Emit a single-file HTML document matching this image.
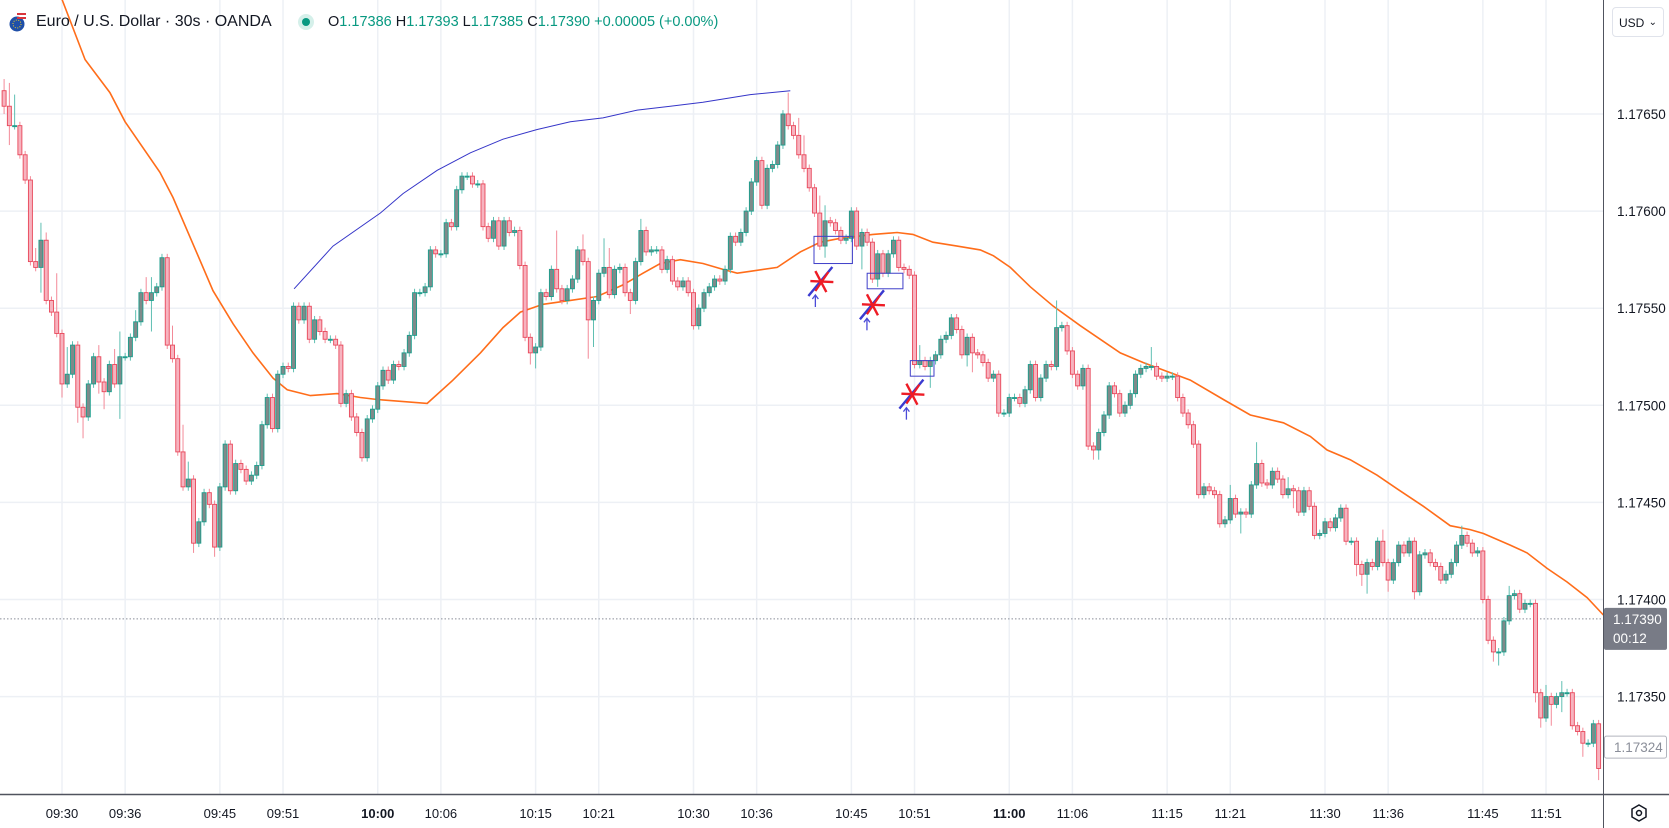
<!DOCTYPE html>
<html>
<head>
<meta charset="utf-8">
<style>
html,body{margin:0;padding:0;background:#fff;}
#wrap{position:relative;width:1669px;height:828px;overflow:hidden;background:#fff;font-family:"Liberation Sans",sans-serif;}
#chart{position:absolute;left:0;top:0;}
.hdr{position:absolute;top:11px;left:0;height:22px;display:flex;align-items:center;white-space:nowrap;}
.sym{position:absolute;left:36px;top:11px;font-size:16px;color:#131722;line-height:22px;}
.ohlc{position:absolute;left:328px;top:12px;font-size:14.5px;color:#089981;line-height:20px;}
.ohlc b{font-weight:normal;color:#131722;}
.dot{position:absolute;left:298px;top:14px;width:16px;height:16px;border-radius:50%;background:#d5f0ea;}
.dot i{position:absolute;left:4px;top:4px;width:8px;height:8px;border-radius:50%;background:#089981;}
.usd{position:absolute;left:1612px;top:7px;width:52px;height:30px;border:1px solid #e0e3eb;border-radius:4px;font-size:12px;color:#131722;line-height:30px;box-sizing:border-box;padding-left:6px;}
.usd span{position:absolute;right:6px;top:0;font-size:10px;}
</style>
</head>
<body>
<div id="wrap">
<svg id="chart" width="1669" height="828"></svg>
<svg style="position:absolute;left:9px;top:12px" width="20" height="20">
  <circle cx="8" cy="12" r="7.5" fill="#1f4fa8"/>
  <circle cx="8" cy="12" r="4" fill="none" stroke="#f5d020" stroke-width="1" stroke-dasharray="1 1.5"/>
  <path d="M8 1 h9 v2 h-9z M8 5 h9 v2 h-9z" fill="#d9343c"/>
</svg>
<div class="sym">Euro / U.S. Dollar · 30s · OANDA</div>
<div class="dot"><i></i></div>
<div class="ohlc"><b>O</b>1.17386 <b>H</b>1.17393 <b>L</b>1.17385 <b>C</b>1.17390 +0.00005 (+0.00%)</div>
<div class="usd">USD<span>⌄</span></div>
</div>
<script>
// ---------- data ----------
const firstOpen = 1.17662;
const closes = [
1.17654,1.17644,1.17644,1.17629,1.17616,1.17574,1.17571,1.17585,1.17554,1.17548,
1.17537,1.17511,1.17516,1.17531,1.17499,1.17494,1.17511,1.17525,1.17512,1.17507,
1.17521,1.17511,1.17525,1.17525,1.17535,1.17543,1.17558,1.17554,1.17558,1.17561,
1.17576,1.17531,1.17524,1.17476,1.17458,1.17462,1.17429,1.17440,1.17455,1.17449,
1.17427,1.17458,1.17480,1.17456,1.17470,1.17467,1.17461,1.17464,1.17469,1.17490,
1.17504,1.17488,1.17516,1.17520,1.17519,1.17551,1.17544,1.17551,1.17534,1.17544,
1.17538,1.17534,1.17534,1.17531,1.17501,1.17506,1.17494,1.17486,1.17473,1.17493,
1.17498,1.17510,
1.17518,1.17513,1.17521,1.17520,1.17527,1.17536,1.17558,1.17558,1.17561,1.17580,
1.17578,1.17578,1.17594,1.17592,1.17611,1.17618,1.17618,1.17614,1.17614,1.17592,
1.17586,1.17595,1.17582,1.17595,1.17589,1.17590,1.17572,1.17535,1.17527,1.17530,
1.17558,1.17556,1.17570,1.17560,1.17554,1.17560,1.17565,1.17580,1.17574,1.17544,
1.17554,1.17568,1.17571,1.17557,1.17570,1.17571,1.17558,1.17554,1.17574,1.17590,
1.17579,1.17580,1.17580,1.17570,1.17575,1.17564,1.17561,1.17564,1.17558,1.17541,
1.17550,1.17558,1.17561,1.17565,1.17564,1.17570,1.17587,1.17584,1.17589,1.17600,
1.17615,1.17626,1.17603,1.17622,1.17624,1.17634,1.17650,1.17644,1.17639,1.17629,
1.17622,1.17612,1.17599,1.17582,1.17595,1.17594,1.17590,1.17585,1.17586,1.17600,
1.17582,1.17589,1.17584,1.17565,1.17578,1.17568,1.17578,1.17585,1.17571,1.17570,
1.17567,1.17521,1.17523,1.17520,1.17523,1.17526,1.17534,1.17536,1.17545,1.17539,
1.17526,1.17535,1.17527,1.17526,1.17522,1.17514,1.17516,1.17496,1.17496,1.17504,
1.17504,1.17501,1.17508,1.17521,1.17504,1.17514,1.17521,1.17520,1.17540,1.17541,
1.17528,1.17516,1.17510,1.17519,1.17479,1.17477,1.17486,1.17495,1.17510,1.17506,
1.17496,
1.17500,1.17506,1.17516,1.17519,1.17520,1.17520,1.17515,1.17514,1.17515,1.17515,
1.17504,1.17496,1.17490,1.17480,1.17454,1.17458,1.17456,1.17454,1.17439,1.17441,
1.17452,1.17444,1.17445,1.17444,1.17459,1.17470,1.17460,1.17459,1.17466,1.17462,
1.17454,1.17457,1.17456,1.17445,1.17456,1.17448,1.17433,1.17434,1.17440,1.17437,
1.17442,1.17447,1.17430,1.17430,1.17418,1.17413,1.17419,1.17417,1.17430,1.17419,
1.17410,1.17419,1.17428,1.17424,1.17430,1.17404,1.17423,1.17424,1.17419,1.17417,
1.17410,1.17413,1.17419,1.17428,1.17433,1.17429,1.17424,1.17425,1.17400,
1.17379,1.17373,1.17373,1.17389,1.17402,1.17403,1.17395,1.17398,1.17398,1.17352,
1.17339,1.17350,1.17346,1.17350,1.17352,1.17352,1.17335,1.17332,1.17326,1.17326,
1.17336,1.17313
];
const hiWicks = [[0,6],[1,12],[2,16],[6,7],[7,9],[8,4],[10,20],[12,14],[18,6],[21,8],[22,13],[25,6],[27,8],[28,8],[32,10],[34,14],[35,9],[105,20],[110,8],[114,15],[115,10],[121,6],[149,11],[151,9],[152,10],[155,9],[156,8],[174,8],[200,14],[218,10],[233,7],[238,11],[244,6],[262,6],[277,5],[286,5],[293,6],[296,6]];
const loWicks = [[0,4],[1,10],[7,13],[11,7],[14,8],[15,11],[18,6],[19,9],[22,18],[28,16],[36,5],[40,5],[100,6],[101,8],[111,20],[112,14],[119,7],[156,6],[163,12],[166,4],[176,11],[183,6],[184,10],[207,5],[208,5],[235,10],[245,9],[257,6],[258,6],[259,10],[263,6],[268,4],[283,5],[284,7],[291,5],[292,5],[294,11],[296,8],[300,7],[303,6]];
const maIdx = [11,15.4,20.1,23,29.6,32.1,36.7,39.7,43.5,47.3,51.1,53.8,58.2,63.3,67.7,70.9,80.4,85.3,90.5,94.8,98.1,102.4,107.6,112.7,117.6,121.4,124.7,128.5,132.8,136.6,139.3,141.8,146.9,151.3,155.1,158.9,165.1,169.7,172.7,176.5,181.1,185.5,188,191.2,195,199.4,204.5,208.3,212.1,216.5,225.4,231.7,236.8,243.1,248.2,251.4,255.8,260.9,264.7,269.7,274.8,278.6,281.1,286.2,289.4,293.2,297,300.8,303.9];
const maVal = [1.17709,1.17678,1.17661,1.17646,1.17620,1.17607,1.17578,1.17559,1.17542,1.17527,1.17514,1.17508,1.17505,1.17506,1.17504,1.17503,1.17501,1.17513,1.17527,1.17540,1.17548,1.17552,1.17554,1.17556,1.17562,1.17568,1.17573,1.17575,1.17573,1.17570,1.17568,1.17569,1.17571,1.17579,1.17584,1.17586,1.17588,1.17589,1.17588,1.17584,1.17582,1.17580,1.17577,1.17571,1.17561,1.17551,1.17541,1.17534,1.17527,1.17522,1.17513,1.17503,1.17495,1.17491,1.17484,1.17477,1.17472,1.17464,1.17457,1.17448,1.17438,1.17436,1.17434,1.17428,1.17424,1.17416,1.17409,1.17401,1.17392];
const curveIdx = [55.1,62.5,71.5,75.8,82.3,88.6,94.8,101.3,107.6,113.8,120.3,126.6,132.8,141.8,149.4];
const curveVal = [1.17560,1.17582,1.17599,1.17609,1.17621,1.17630,1.17637,1.17642,1.17646,1.17648,1.17652,1.17654,1.17656,1.17660,1.17662];
const boxI0 = [153.9,164,172.2];
const boxI1 = [161.2,170.8,176.7];
const boxP0 = [1.17587,1.17568,1.17523];
const boxP1 = [1.17573,1.17560,1.17515];
const sigIdx = [155.3,165.1,172.6];
const sigVal = [1.17564,1.17552,1.17506];
const priceTicks = [1.17650,1.17600,1.17550,1.17500,1.17450,1.17400,1.17350];
const timeTicks = ["09:30","09:36","09:45","09:51","10:00","10:06","10:15","10:21","10:30","10:36","10:45","10:51","11:00","11:06","11:15","11:21","11:30","11:36","11:45","11:51"];
const lastPrice = 1.17390;
const lowMark = 1.17324;

// ---------- scales ----------
const PLOT_R = 1603, AXIS_Y = 794;
function xOfIdx(i){ return 4.1 + i*5.2625; }
function xOfTime(s){ const [h,m]=s.split(":").map(Number); return 62 + ((h*60+m) - (9*60+30))*10.525; }
function yOf(p){ return 114 + (1.17650 - p)/0.0005*97.1; }

const NS="http://www.w3.org/2000/svg";
const svg=document.getElementById('chart');
function mk(tag,attrs,parent){const e=document.createElementNS(NS,tag);for(const k in attrs)e.setAttribute(k,attrs[k]);(parent||svg).appendChild(e);return e;}

// grid
const grid=mk('g',{});


priceTicks.forEach(p=>{const l=mk('line',{x1:0,x2:PLOT_R,y1:yOf(p),y2:yOf(p),stroke:'#edf0f5','stroke-width':1.5},grid);

});
timeTicks.forEach(t=>{const l=mk('line',{x1:xOfTime(t),x2:xOfTime(t),y1:0,y2:AXIS_Y,stroke:'#edf0f5','stroke-width':1.5},grid);

});

// orange MA
let d='';maIdx.forEach((i,k)=>{d+=(k?'L':'M')+xOfIdx(i).toFixed(1)+' '+yOf(maVal[k]).toFixed(1);});
const ma=mk('path',{d:d,fill:'none',stroke:'#ff6d1a','stroke-width':1.6});



// blue curve
d='';curveIdx.forEach((i,k)=>{d+=(k?'L':'M')+xOfIdx(i).toFixed(1)+' '+yOf(curveVal[k]).toFixed(1);});
const bc=mk('path',{d:d,fill:'none',stroke:'#3535c8','stroke-width':1});



// last price dotted line
const lp=mk('line',{x1:0,x2:PLOT_R,y1:yOf(lastPrice),y2:yOf(lastPrice),stroke:'#8a8e99','stroke-width':1,'stroke-dasharray':'1.5 2'});



// candles
const hiMap={},loMap={};hiWicks.forEach(([i,v])=>hiMap[i]=v);loWicks.forEach(([i,v])=>loMap[i]=v);
const cg=mk('g',{});


closes.forEach((c,i)=>{
  const o = i===0?firstOpen:closes[i-1];
  const up = c>=o;
  const top=Math.max(o,c), bot=Math.min(o,c);
  const hi = top + (hiMap[i]!==undefined?hiMap[i]:2)*1e-5;
  const lo = bot - (loMap[i]!==undefined?loMap[i]:2)*1e-5;
  const x=xOfIdx(i);
  const g=mk('g',{},cg);
  
  
  mk('line',{x1:x,x2:x,y1:yOf(hi),y2:yOf(lo),stroke:up?'#5fbfb2':'#f38a98','stroke-width':1},g);
  const y1=yOf(top), h=Math.max(1,yOf(bot)-y1);
  mk('rect',{x:x-2,y:y1,width:4,height:h,fill:up?'#7f8a8a':'#f7b3bf',stroke:up?'#1a9e8c':'#e8475a','stroke-width':0.9},g);
});

// boxes
boxI0.forEach((i,k)=>{const r=mk('rect',{x:xOfIdx(i),y:yOf(boxP0[k]),width:xOfIdx(boxI1[k])-xOfIdx(i),height:yOf(boxP1[k])-yOf(boxP0[k]),fill:'none',stroke:'#3f3fc8','stroke-width':1});

});

// signals
sigIdx.forEach((i,k)=>{
  const cx=xOfIdx(i), cy=yOf(sigVal[k]);
  const g=mk('g',{});
  
  
  mk('line',{x1:cx-13,x2:cx+11,y1:cy+15,y2:cy-14,stroke:'#3a3ad0','stroke-width':2.4},g);
  mk('line',{x1:cx-11,x2:cx+12,y1:cy,y2:cy+1,stroke:'#ee1c25','stroke-width':2.4},g);
  mk('line',{x1:cx-6,x2:cx+5,y1:cy-10,y2:cy+11,stroke:'#ee1c25','stroke-width':2.4},g);
  mk('line',{x1:cx+7,x2:cx-6,y1:cy-9,y2:cy+10,stroke:'#ee1c25','stroke-width':2.2},g);
  mk('line',{x1:cx-6,x2:cx-6,y1:cy+26,y2:cy+14,stroke:'#4b4bd8','stroke-width':1.3},g);
  mk('path',{d:`M${cx-9} ${cy+18} L${cx-6} ${cy+14} L${cx-3} ${cy+18}`,fill:'none',stroke:'#4b4bd8','stroke-width':1.3},g);
});

// axes
const ax=mk('g',{});


mk('rect',{x:PLOT_R,y:0,width:1669-PLOT_R,height:828,fill:'#fff'},ax);
mk('rect',{x:0,y:AXIS_Y,width:1669,height:828-AXIS_Y,fill:'#fff'},ax);
mk('line',{x1:PLOT_R+0.5,x2:PLOT_R+0.5,y1:0,y2:828,stroke:'#50535e','stroke-width':1},ax);
mk('line',{x1:0,x2:1669,y1:AXIS_Y+0.5,y2:AXIS_Y+0.5,stroke:'#50535e','stroke-width':1.5},ax);
priceTicks.forEach(p=>{const t=mk('text',{x:1617,y:yOf(p)+5,'font-size':13.5,fill:'#131722','font-family':'Liberation Sans, sans-serif'},ax);t.textContent=p.toFixed(5);

});
timeTicks.forEach(s=>{const bold=s.endsWith(':00');const t=mk('text',{x:xOfTime(s),y:818,'font-size':13,'text-anchor':'middle',fill:'#131722','font-weight':bold?'bold':'normal','font-family':'Liberation Sans, sans-serif'},ax);t.textContent=s;

});

// last price label
const lb=mk('g',{});


const ly=yOf(lastPrice);
mk('rect',{x:PLOT_R+1,y:ly-11,width:63,height:42,fill:'#787b86',rx:2},lb);
let t=mk('text',{x:1613,y:ly+5,'font-size':13.5,fill:'#fff','font-family':'Liberation Sans, sans-serif'},lb);t.textContent=lastPrice.toFixed(5);
t=mk('text',{x:1613,y:ly+24,'font-size':13.5,fill:'#fff','font-family':'Liberation Sans, sans-serif'},lb);t.textContent='00:12';

// low mark label
const ml=mk('g',{});


const my=yOf(lowMark);
mk('rect',{x:PLOT_R+1.5,y:my-11,width:62,height:22,fill:'#fff',stroke:'#b2b5be','stroke-width':1,rx:2},ml);
t=mk('text',{x:1614,y:my+5,'font-size':13.5,fill:'#8a8e99','font-family':'Liberation Sans, sans-serif'},ml);t.textContent=lowMark.toFixed(5);

// settings icon
const si=mk('g',{});


mk('path',{d:'M1639 805 L1646 809 L1646 817 L1639 821 L1632 817 L1632 809 Z',fill:'none',stroke:'#131722','stroke-width':1.5},si);
mk('circle',{cx:1639,cy:813,r:2.5,fill:'none',stroke:'#131722','stroke-width':1.5},si);
</script>
</body>
</html>
